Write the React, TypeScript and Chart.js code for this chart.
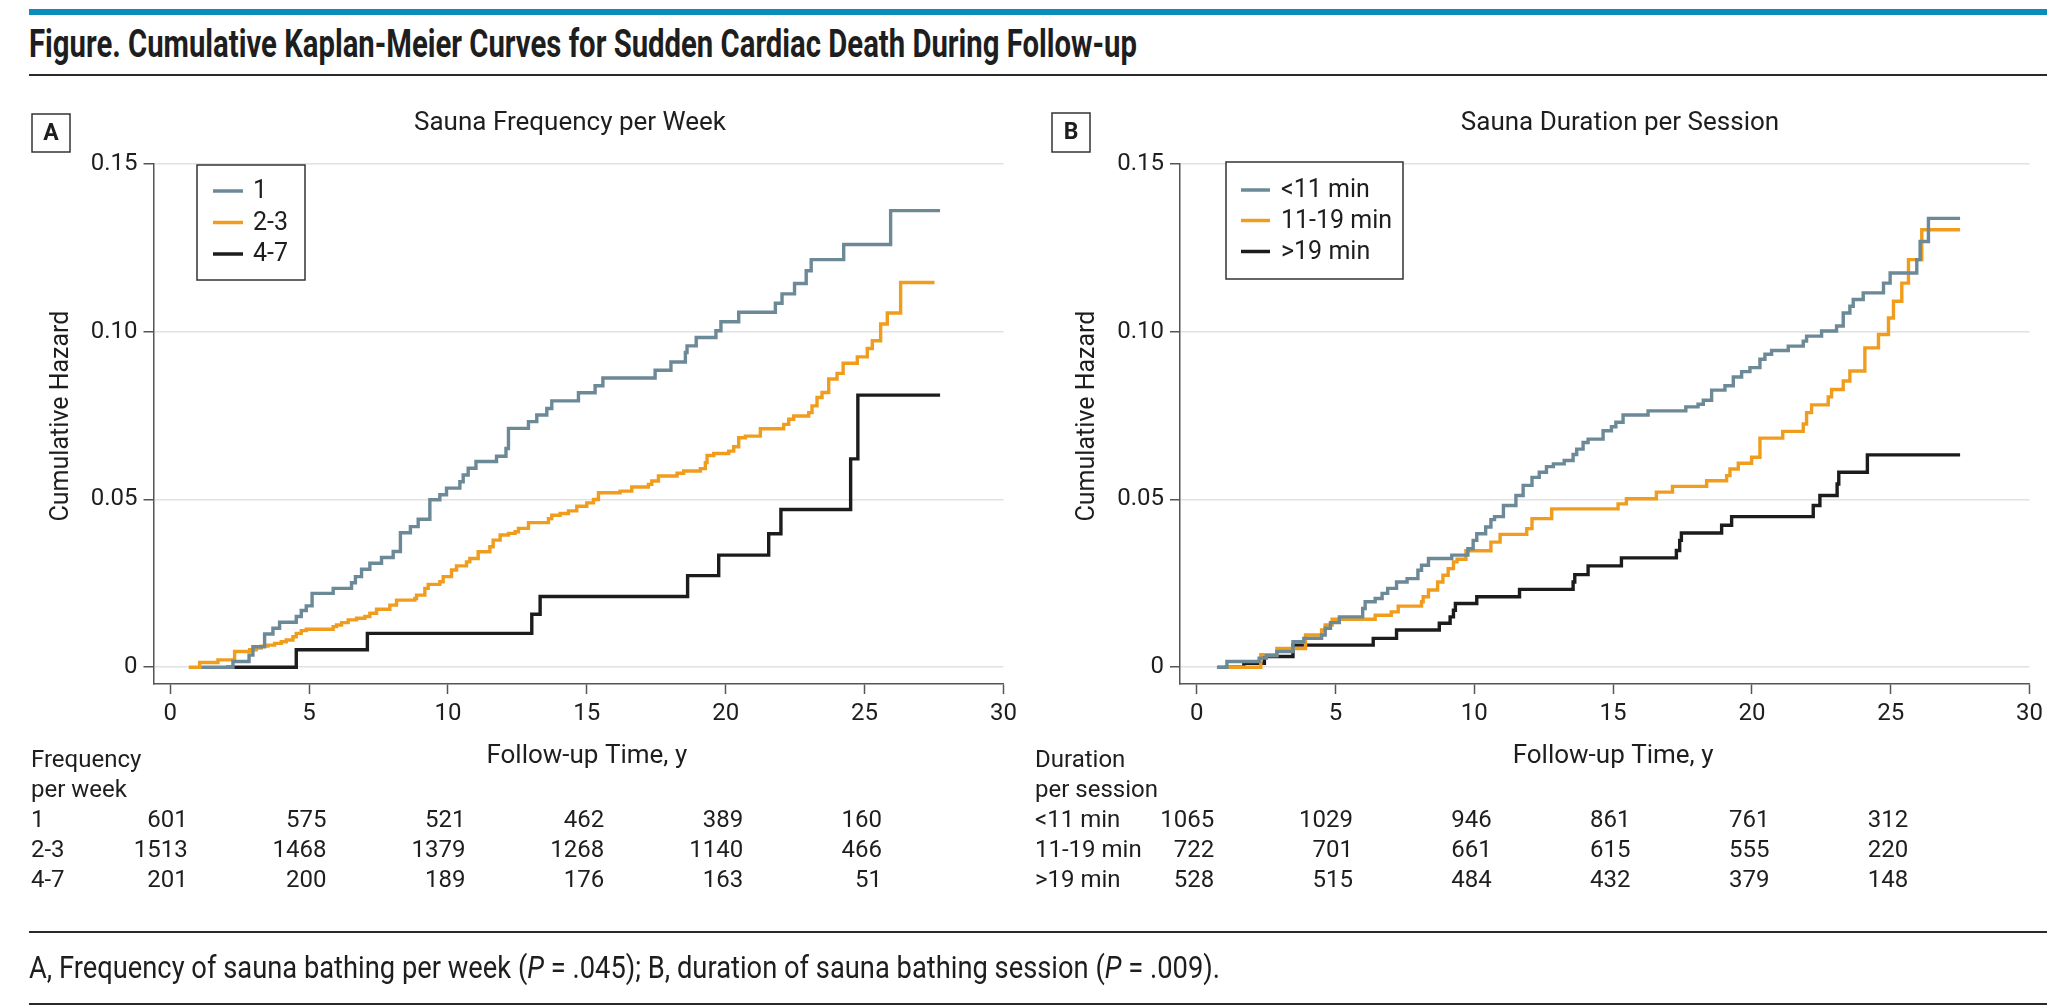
import React, { useEffect, useLayoutEffect, useRef } from 'react';
import { Chart, registerables } from 'chart.js';

Chart.register(...registerables);

const FONT = 'Roboto, "Liberation Sans", Arial, sans-serif';
const TEXT = '#1e1e1e';

// ---------- axes ----------
const xTickValues = [0, 5, 10, 15, 20, 25, 30];
const yTickValues = [0, 0.05, 0.1, 0.15];
const yTickLabels = ['0', '0.05', '0.10', '0.15'];
const riskTimes = [0, 5, 10, 15, 20, 25];

// ---------- Panel A: Sauna frequency per week ----------
const freqTitle = 'Sauna Frequency per Week';
const freqLabels = ['1', '2-3', '4-7'];
const freqHeader = ['Frequency', 'per week'];

const freq1: number[][] = [
  [1.12, 0], [2.26, 0.0017], [2.84, 0.0036], [2.98, 0.0061], [3.4, 0.0099], [3.7, 0.0116],
  [3.94, 0.0134], [4.54, 0.0151], [4.72, 0.0169], [4.9, 0.0183], [5.11, 0.022], [5.87, 0.0235],
  [6.53, 0.0252], [6.67, 0.027], [6.89, 0.0292], [7.19, 0.031], [7.61, 0.0327], [8.03, 0.0345],
  [8.29, 0.0401], [8.65, 0.0419], [8.93, 0.0441], [9.35, 0.0499], [9.71, 0.0514], [9.95, 0.0534],
  [10.43, 0.0553], [10.55, 0.0573], [10.73, 0.0593], [11.01, 0.0613], [11.75, 0.0629], [12.09, 0.0652],
  [12.18, 0.0712], [12.9, 0.0732], [13.2, 0.0752], [13.56, 0.0771], [13.74, 0.0794], [14.7, 0.0818],
  [15.3, 0.0839], [15.58, 0.0862], [17.46, 0.0885], [18.03, 0.091], [18.55, 0.0938], [18.61, 0.0958],
  [18.94, 0.0983], [19.65, 0.1003], [19.83, 0.103], [20.47, 0.1058], [21.79, 0.1085], [22.03, 0.1113],
  [22.48, 0.1144], [22.9, 0.1182], [23.08, 0.1215], [24.25, 0.126], [25.94, 0.1361], [27.72, 0.1361],
];

const freq23: number[][] = [
  [0.67, 0], [1.06, 0.0014], [1.72, 0.0022], [2.32, 0.0047], [2.86, 0.0052], [3.1, 0.0057],
  [3.28, 0.0063], [3.52, 0.0066], [3.76, 0.0071], [4.0, 0.0076], [4.18, 0.0081], [4.42, 0.0091],
  [4.54, 0.0101], [4.72, 0.0109], [4.9, 0.0113], [5.87, 0.0121], [5.99, 0.0126], [6.17, 0.0133],
  [6.41, 0.0141], [6.71, 0.0146], [7.01, 0.0151], [7.19, 0.0161], [7.43, 0.0173], [7.91, 0.0185],
  [8.15, 0.02], [8.81, 0.0205], [8.87, 0.0215], [9.17, 0.0235], [9.29, 0.0247], [9.71, 0.0255],
  [9.83, 0.027], [10.13, 0.029], [10.31, 0.0302], [10.67, 0.0314], [10.79, 0.0324], [11.09, 0.0344],
  [11.51, 0.0359], [11.63, 0.0379], [11.88, 0.0394], [12.18, 0.0399], [12.42, 0.0404], [12.54, 0.0414],
  [12.9, 0.0431], [13.62, 0.0443], [13.74, 0.0453], [14.04, 0.0458], [14.34, 0.0466], [14.64, 0.048],
  [15.0, 0.049], [15.24, 0.05], [15.42, 0.052], [16.2, 0.0525], [16.62, 0.0537], [17.22, 0.0545],
  [17.34, 0.0555], [17.58, 0.057], [18.25, 0.0578], [18.49, 0.0585], [19.09, 0.0592], [19.27, 0.061],
  [19.33, 0.0631], [19.57, 0.0637], [20.11, 0.0644], [20.29, 0.0657], [20.47, 0.0684], [20.71, 0.0689],
  [21.25, 0.0711], [22.09, 0.0724], [22.27, 0.0739], [22.45, 0.0749], [22.99, 0.0759], [23.11, 0.0779],
  [23.29, 0.0804], [23.47, 0.0819], [23.71, 0.0859], [24.01, 0.0876], [24.23, 0.0906], [24.74, 0.0925],
  [25.1, 0.095], [25.28, 0.0973], [25.58, 0.1023], [25.82, 0.1056], [26.3, 0.1147], [27.52, 0.1147],
];

const freq47: number[][] = [
  [2.02, 0], [4.54, 0.0052], [7.1, 0.0101], [13.02, 0.0158], [13.32, 0.0211], [18.63, 0.0273],
  [19.75, 0.0334], [21.55, 0.0398], [21.99, 0.047], [24.5, 0.0621], [24.76, 0.0811], [27.72, 0.0811],
];

const freqRisk1 = [601, 575, 521, 462, 389, 160];
const freqRisk23 = [1513, 1468, 1379, 1268, 1140, 466];
const freqRisk47 = [201, 200, 189, 176, 163, 51];

// ---------- Panel B: Sauna duration per session ----------
const durTitle = 'Sauna Duration per Session';
const durLabels = ['<11 min', '11-19 min', '>19 min'];
const durHeader = ['Duration', 'per session'];

const durLt11: number[][] = [
  [0.73, 0], [1.09, 0.0017], [2.25, 0.0027], [2.51, 0.0034], [2.89, 0.0047], [3.47, 0.0076],
  [3.86, 0.0086], [4.5, 0.0096], [4.63, 0.0116], [4.82, 0.0133], [5.14, 0.015], [5.98, 0.0175],
  [6.07, 0.0195], [6.43, 0.0205], [6.68, 0.022], [6.88, 0.0235], [7.2, 0.0254], [7.58, 0.0264],
  [7.97, 0.0289], [8.1, 0.0304], [8.35, 0.0324], [9.19, 0.0334], [9.77, 0.0353], [9.96, 0.0378],
  [10.09, 0.0398], [10.41, 0.0418], [10.6, 0.044], [10.73, 0.0449], [11.05, 0.0482], [11.5, 0.0512],
  [11.76, 0.0542], [12.08, 0.0566], [12.34, 0.0581], [12.6, 0.0598], [12.85, 0.0606], [13.24, 0.0616],
  [13.56, 0.0634], [13.69, 0.065], [13.92, 0.067], [14.1, 0.068], [14.64, 0.0705], [14.94, 0.0717],
  [15.1, 0.073], [15.36, 0.0752], [16.26, 0.0764], [17.62, 0.0776], [18.06, 0.0784], [18.25, 0.0796],
  [18.55, 0.0826], [19.03, 0.0839], [19.33, 0.0865], [19.63, 0.0881], [19.93, 0.0893], [20.29, 0.0918],
  [20.47, 0.0933], [20.71, 0.0944], [21.31, 0.0957], [21.85, 0.0972], [21.97, 0.0987], [22.51, 0.1002],
  [23.05, 0.1017], [23.29, 0.1056], [23.53, 0.1076], [23.65, 0.1096], [24.01, 0.1116], [24.74, 0.1145],
  [24.98, 0.1175], [25.94, 0.1215], [26.06, 0.1269], [26.36, 0.1338], [27.5, 0.1338],
];

const dur1119: number[][] = [
  [0.77, 0], [2.31, 0.0037], [2.89, 0.0056], [3.92, 0.0096], [4.5, 0.0111], [4.63, 0.0126],
  [4.88, 0.0143], [6.43, 0.0155], [7.01, 0.0165], [7.26, 0.0182], [8.1, 0.0195], [8.16, 0.021],
  [8.35, 0.023], [8.68, 0.0254], [8.87, 0.0274], [9.06, 0.0294], [9.25, 0.0314], [9.38, 0.0322],
  [9.7, 0.0347], [10.6, 0.0373], [10.93, 0.0396], [11.89, 0.0413], [12.08, 0.0443], [12.79, 0.0472],
  [15.18, 0.0487], [15.48, 0.0502], [16.56, 0.0522], [17.14, 0.0539], [18.37, 0.0556], [19.09, 0.0571],
  [19.21, 0.0591], [19.51, 0.0608], [19.99, 0.0626], [20.29, 0.0683], [21.11, 0.0703], [21.85, 0.0725],
  [21.97, 0.0759], [22.15, 0.0782], [22.75, 0.0806], [22.87, 0.0828], [23.29, 0.0853], [23.53, 0.0883],
  [24.07, 0.0952], [24.56, 0.0992], [24.92, 0.1041], [25.1, 0.1091], [25.4, 0.1145], [25.64, 0.1215],
  [26.12, 0.1304], [27.5, 0.1304],
];

const durGt19: number[][] = [
  [1.0, 0], [1.7, 0.0012], [2.44, 0.0032], [3.47, 0.0066], [6.36, 0.0086], [7.2, 0.0111],
  [8.74, 0.0131], [9.13, 0.015], [9.25, 0.017], [9.32, 0.019], [10.09, 0.021], [11.63, 0.0232],
  [13.56, 0.0254], [13.62, 0.0276], [14.1, 0.0302], [15.3, 0.0326], [17.28, 0.0348], [17.4, 0.0378],
  [17.46, 0.04], [18.91, 0.0423], [19.27, 0.0449], [22.21, 0.0482], [22.45, 0.0512], [23.07, 0.0546],
  [23.13, 0.0581], [24.16, 0.0633], [27.5, 0.0633],
];

const durRiskLt11 = [1065, 1029, 946, 861, 761, 312];
const durRisk1119 = [722, 701, 661, 615, 555, 220];
const durRiskGt19 = [528, 515, 484, 432, 379, 148];

const seriesColors = ['#6b8996', '#f09d1e', '#1c1c1c'];

type PanelDef = {
  ox: number;
  padLeftWidth: number;
  padRight: number;
  letter: string;
  title: string;
  titleX: number;
  series: number[][][];
  labels: string[];
  header: string[];
  risks: number[][];
  box: { x: number; y: number; w: number; h: number };
  legend: { x: number; y: number; w: number; h: number; l1: number; l2: number; tx: number; rows: number[] };
  yTitleX: number;
  tableX: number;
};

const PLOT_TOP = 164;
const PLOT_BOTTOM = 684;
const CANVAS_W = 1034;
const CANVAS_H = 1008;
const X_AXIS_H = 60;

function Panel({ def }: { def: PanelDef }) {
  const ref = useRef<HTMLCanvasElement>(null);
  useEffect(() => {
    const canvas = ref.current;
    if (!canvas) return;
    const p = def;
    const decor = {
      id: 'decor',
      afterDraw(chart: any) {
        const ctx = chart.ctx as CanvasRenderingContext2D;
        const xs = chart.scales.x;
        const X = (v: number) => xs.getPixelForValue(v);
        const ox = p.ox;
        const mid = (X(0) + X(30)) / 2;
        ctx.save();
        ctx.textBaseline = 'middle';
        ctx.fillStyle = TEXT;
        // panel title
        ctx.font = `26px ${FONT}`;
        ctx.textAlign = 'center';
        ctx.fillText(p.title, p.titleX - ox, 123);
        // letter box
        ctx.lineWidth = 1.5;
        ctx.strokeStyle = '#333';
        ctx.strokeRect(p.box.x - ox, p.box.y, p.box.w, p.box.h);
        ctx.font = `bold 23px ${FONT}`;
        ctx.fillText(p.letter, p.box.x - ox + p.box.w / 2, p.box.y + p.box.h / 2 + 1);
        // legend
        const L = p.legend;
        ctx.fillStyle = '#fff';
        ctx.fillRect(L.x - ox, L.y, L.w, L.h);
        ctx.strokeStyle = '#333';
        ctx.lineWidth = 1.5;
        ctx.strokeRect(L.x - ox, L.y, L.w, L.h);
        ctx.font = `25px ${FONT}`;
        ctx.textAlign = 'left';
        p.labels.forEach((lab, i) => {
          ctx.strokeStyle = seriesColors[i];
          ctx.lineWidth = 3.5;
          ctx.beginPath();
          ctx.moveTo(L.l1 - ox, L.rows[i]);
          ctx.lineTo(L.l2 - ox, L.rows[i]);
          ctx.stroke();
          ctx.fillStyle = TEXT;
          ctx.fillText(lab, L.tx - ox, L.rows[i] + 1);
        });
        // y title
        ctx.save();
        ctx.translate(p.yTitleX - ox, 416);
        ctx.rotate(-Math.PI / 2);
        ctx.textAlign = 'center';
        ctx.font = `25px ${FONT}`;
        ctx.fillText('Cumulative Hazard', 0, 0);
        ctx.restore();
        // x title
        ctx.textAlign = 'center';
        ctx.font = `26px ${FONT}`;
        ctx.fillText('Follow-up Time, y', mid, 756);
        // risk table
        ctx.font = `24px ${FONT}`;
        ctx.textAlign = 'left';
        ctx.fillText(p.header[0], p.tableX - ox, 761);
        ctx.fillText(p.header[1], p.tableX - ox, 791);
        const rowY = [821, 851, 881];
        p.labels.forEach((lab, i) => {
          ctx.textAlign = 'left';
          ctx.fillText(lab, p.tableX - ox, rowY[i]);
          ctx.textAlign = 'right';
          p.risks[i].forEach((n, j) => {
            ctx.fillText(String(n), X(riskTimes[j]) + 17.5, rowY[i]);
          });
        });
        ctx.restore();
      },
    };

    const chart = new Chart(canvas, {
      type: 'line',
      data: {
        datasets: p.series.map((s, i) => ({
          label: p.labels[i],
          data: s.map(([x, y]) => ({ x, y })),
          borderColor: seriesColors[i],
          backgroundColor: seriesColors[i],
          borderWidth: 3.4,
          stepped: true,
          pointRadius: 0,
          fill: false,
          tension: 0,
        })),
      },
      options: {
        animation: false,
        responsive: false,
        maintainAspectRatio: false,
        events: [],
        layout: {
          padding: { left: 0, top: PLOT_TOP, right: p.padRight, bottom: CANVAS_H - PLOT_BOTTOM - X_AXIS_H },
        },
        plugins: {
          legend: { display: false },
          tooltip: { enabled: false },
          title: { display: false },
        },
        scales: {
          x: {
            type: 'linear',
            min: -0.6,
            max: 30,
            afterBuildTicks: (s: any) => {
              s.ticks = xTickValues.map((v) => ({ value: v }));
            },
            afterFit: (s: any) => {
              s.height = X_AXIS_H;
            },
            grid: { drawOnChartArea: false, drawTicks: true, tickLength: 10, tickColor: '#555', tickWidth: 1.5 },
            border: { display: true, color: '#555', width: 1.5 },
            ticks: {
              font: { family: FONT, size: 24 },
              color: TEXT,
              padding: 6,
              maxRotation: 0,
              autoSkip: false,
              callback: (v: any) => String(v),
            },
          },
          y: {
            type: 'linear',
            min: -0.005,
            max: 0.15,
            afterBuildTicks: (s: any) => {
              s.ticks = yTickValues.map((v) => ({ value: v }));
            },
            afterFit: (s: any) => {
              s.width = p.padLeftWidth;
            },
            grid: { color: '#e2e2e2', lineWidth: 1.5, drawTicks: true, tickLength: 10, tickColor: '#555', tickWidth: 1.5 },
            border: { display: true, color: '#555', width: 1.5 },
            ticks: {
              font: { family: FONT, size: 24 },
              color: TEXT,
              padding: 6,
              autoSkip: false,
              callback: (v: any) => {
                const i = yTickValues.findIndex((t) => Math.abs(t - Number(v)) < 1e-9);
                return i >= 0 ? yTickLabels[i] : '';
              },
            },
          },
        },
      },
      plugins: [decor],
    } as any);
    return () => chart.destroy();
  }, [def]);
  return (
    <canvas
      ref={ref}
      width={CANVAS_W}
      height={CANVAS_H}
      style={{ position: 'absolute', left: def.ox, top: 0, width: CANVAS_W, height: CANVAS_H }}
    />
  );
}

function FitText({
  left,
  centerY,
  width,
  size,
  weight,
  children,
}: {
  left: number;
  centerY: number;
  width: number;
  size: number;
  weight: number;
  children: React.ReactNode;
}) {
  const ref = useRef<HTMLSpanElement>(null);
  useLayoutEffect(() => {
    const el = ref.current;
    if (!el) return;
    el.style.transform = 'none';
    const w = el.getBoundingClientRect().width;
    if (w > 0) el.style.transform = `scaleX(${width / w})`;
  }, [width]);
  const lh = Math.round(size * 1.3);
  return (
    <span
      ref={ref}
      style={{
        position: 'absolute',
        left,
        top: centerY - lh / 2,
        lineHeight: `${lh}px`,
        height: lh,
        display: 'inline-block',
        whiteSpace: 'nowrap',
        transformOrigin: '0 50%',
        fontFamily: FONT,
        fontSize: size,
        fontWeight: weight,
        color: TEXT,
      }}
    >
      {children}
    </span>
  );
}

const panelA: PanelDef = {
  ox: 0,
  padLeftWidth: 153.5,
  padRight: CANVAS_W - 1003.4,
  letter: 'A',
  title: freqTitle,
  titleX: 570,
  series: [freq1, freq23, freq47],
  labels: freqLabels,
  header: freqHeader,
  risks: [freqRisk1, freqRisk23, freqRisk47],
  box: { x: 32, y: 114, w: 38, h: 38 },
  legend: { x: 197, y: 165, w: 108, h: 115, l1: 213, l2: 243, tx: 253, rows: [191, 222.5, 254] },
  yTitleX: 62,
  tableX: 31,
};

const panelB: PanelDef = {
  ox: 1034,
  padLeftWidth: 1180 - 1034,
  padRight: 2068 - 2029.5,
  letter: 'B',
  title: durTitle,
  titleX: 1620,
  series: [durLt11, dur1119, durGt19],
  labels: durLabels,
  header: durHeader,
  risks: [durRiskLt11, durRisk1119, durRiskGt19],
  box: { x: 1052, y: 113, w: 38, h: 39 },
  legend: { x: 1226, y: 162, w: 177, h: 117, l1: 1241, l2: 1270, tx: 1281, rows: [190, 220.5, 251.5] },
  yTitleX: 1088,
  tableX: 1035,
};

export default function App() {
  useEffect(() => {
    document.body.style.margin = '0';
  }, []);
  const rule = (top: number, h: number, color: string) => (
    <div style={{ position: 'absolute', left: 29, top, width: 2018, height: h, background: color }} />
  );
  return (
    <div
      style={{
        position: 'fixed',
        left: 0,
        top: 0,
        width: 2068,
        height: 1008,
        background: '#fff',
        overflow: 'hidden',
      }}
    >
      {rule(9, 6, '#0b8cbc')}
      <FitText left={29} centerY={44} width={1108} size={38} weight={700}>
        Figure. Cumulative Kaplan-Meier Curves for Sudden Cardiac Death During Follow-up
      </FitText>
      {rule(74, 2, '#2a2a2a')}
      <Panel def={panelA} />
      <Panel def={panelB} />
      {rule(931, 2, '#2a2a2a')}
      <FitText left={29} centerY={967} width={1191} size={32} weight={400}>
        A, Frequency of sauna bathing per week (<i>P</i> = .045); B, duration of sauna bathing session (<i>P</i> = .009).
      </FitText>
      {rule(1003, 2, '#2a2a2a')}
    </div>
  );
}
